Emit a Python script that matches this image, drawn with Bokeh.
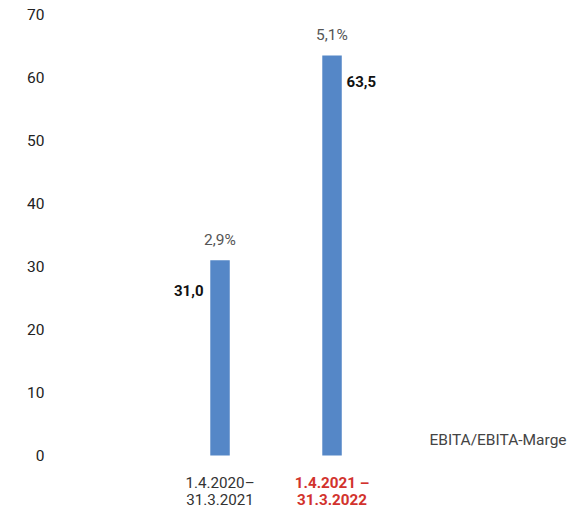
from bokeh.plotting import figure
from bokeh.models import Range1d, FixedTicker, ColumnDataSource
from bokeh.embed import file_html
from bokeh.resources import INLINE
from bokeh.core.properties import value

# Data
periods_line1 = ["1.4.2020–", "1.4.2021 –"]
periods_line2 = ["31.3.2021", "31.3.2022"]
ebita = [31.0, 63.5]
ebita_labels = ["31,0", "63,5"]
margin_labels = ["2,9%", "5,1%"]
y_ticks = [0, 10, 20, 30, 40, 50, 60, 70]
legend_label = "EBITA/EBITA-Marge"

FONT = "Roboto"
BLUE = "#5587C7"
RED = "#D2322D"

xpos = [1, 2]

p = figure(width=573, height=511, output_backend="svg", toolbar_location=None,
           x_range=Range1d(-0.46, 4.156), y_range=Range1d(-8.89, 72.22),
           x_axis_type=None, min_border_left=56, min_border_right=0,
           min_border_top=0, min_border_bottom=0)
p.outline_line_color = None
p.xgrid.visible = False
p.ygrid.visible = False
p.background_fill_color = "white"

ax = p.yaxis[0]
ax.ticker = FixedTicker(ticks=y_ticks)
ax.axis_line_color = None
ax.major_tick_line_color = None
ax.minor_tick_line_color = None
ax.major_tick_out = 0
ax.major_tick_in = 0
ax.major_label_standoff = 12
ax.major_label_text_font = FONT
ax.major_label_text_font_size = "15.5px"
ax.major_label_text_color = "#222222"

src = ColumnDataSource(dict(x=xpos, top=ebita, lab=ebita_labels, marg=margin_labels,
                            l1=periods_line1, l2=periods_line2,
                            col=["#333333", RED], wt=["normal", "bold"]))

p.vbar(x="x", top="top", bottom=0, width=0.174, source=src, fill_color=BLUE, line_color=None)

# value labels: first left of bar, second right of bar
s1 = ColumnDataSource(dict(x=[xpos[0]], y=[ebita[0]], t=[ebita_labels[0]]))
s2 = ColumnDataSource(dict(x=[xpos[1]], y=[ebita[1]], t=[ebita_labels[1]]))
p.text(x="x", y="y", text="t", source=s1, x_offset=-16.5, y_offset=30,
       text_align="right", text_baseline="middle", text_font=value(FONT),
       text_font_size="15px", text_font_style="bold", text_color="#111111")
p.text(x="x", y="y", text="t", source=s2, x_offset=14.5, y_offset=26,
       text_align="left", text_baseline="middle", text_font=value(FONT),
       text_font_size="15px", text_font_style="bold", text_color="#111111")

# margin labels above bars
p.text(x="x", y="top", text="marg", source=src, y_offset=-20,
       text_align="center", text_baseline="middle", text_font=value(FONT),
       text_font_size="15.5px", text_color="#555555")

# period labels
p.text(x="x", y=-4.29, text="l1", source=src, text_align="center", text_baseline="middle",
       text_font=value(FONT), text_font_size="15.2px", text_color="col", text_font_style="wt")
p.text(x="x", y=-6.98, text="l2", source=src, text_align="center", text_baseline="middle",
       text_font=value(FONT), text_font_size="15.2px", text_color="col", text_font_style="wt")

# legend-like text
p.text(x=[4.094], y=[2.38], text=[legend_label], text_align="right", text_baseline="middle",
       text_font=value(FONT), text_font_size="15.5px", text_color="#444444")

open("out.html", "w").write(file_html(p, INLINE))
